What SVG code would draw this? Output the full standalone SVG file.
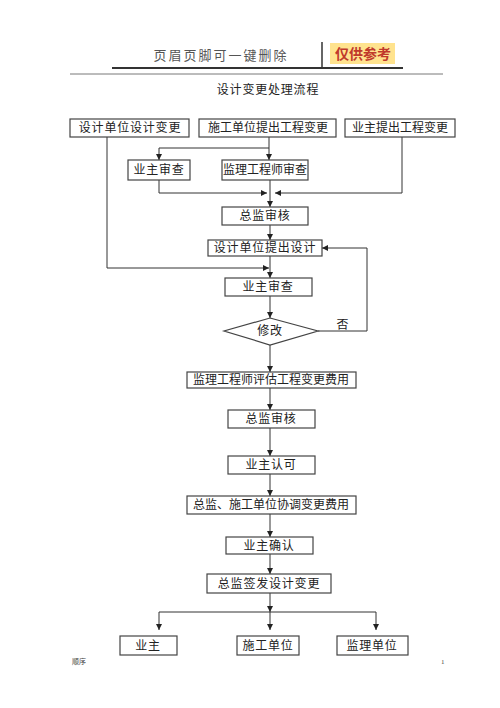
<svg xmlns="http://www.w3.org/2000/svg" width="500" height="708" viewBox="0 0 500 708">
<style>
.box{fill:#fff;stroke:#444;stroke-width:1.2}
.t{font-family:"Liberation Serif","Noto Sans CJK SC",serif;font-size:12px;fill:#222;text-anchor:middle;letter-spacing:0.8px}
.n{letter-spacing:0}
.c{fill:none;stroke:#333;stroke-width:1}
</style>
<defs>
<marker id="ah" markerWidth="6" markerHeight="6" refX="6" refY="3" orient="auto" markerUnits="userSpaceOnUse">
<path d="M0,0 L6,3 L0,6 z" fill="#222"/>
</marker>
</defs>
<rect width="500" height="708" fill="#fff"/>
<g id="header">
<text x="221" y="60" font-family="Liberation Serif,'Noto Sans CJK SC',serif" font-size="13" fill="#555" text-anchor="middle" letter-spacing="2">页眉页脚可一键删除</text>
<line x1="322" y1="42" x2="322" y2="68" stroke="#333" stroke-width="1.5"/>
<line x1="112" y1="68" x2="403" y2="68" stroke="#333" stroke-width="2"/>
<line x1="70" y1="74" x2="443" y2="74" stroke="#555" stroke-width="0.8"/>
<rect x="330" y="43" width="65" height="21" fill="#FFE38E"/>
<text x="363" y="59" font-family="'Noto Sans CJK SC',sans-serif" font-size="14" font-weight="bold" fill="#C0392B" text-anchor="middle">仅供参考</text>
</g>
<g id="title"><text class="t" x="268" y="94" letter-spacing="0.5">设计变更处理流程</text></g>
<g id="connectors">
<path class="c" d="M269,137 V160" marker-end="url(#ah)"/>
<path class="c" d="M269,148 H159 V160" marker-end="url(#ah)"/>
<path class="c" d="M107,137 V268 H269" marker-end="url(#ah)"/>
<path class="c" d="M159,180 V193 H267" marker-end="url(#ah)"/>
<path class="c" d="M402,137 V193 H275" marker-end="url(#ah)"/>
<path class="c" d="M270,180 V207" marker-end="url(#ah)"/>
<path class="c" d="M270,225 V240" marker-end="url(#ah)"/>
<path class="c" d="M270,256 V278" marker-end="url(#ah)"/>
<path class="c" d="M270,296 V318" marker-end="url(#ah)"/>
<path class="c" d="M318,331 H367 V248 H322" marker-end="url(#ah)"/>
<path class="c" d="M270,345 V372" marker-end="url(#ah)"/>
<path class="c" d="M270,388 V410" marker-end="url(#ah)"/>
<path class="c" d="M270,428 V456" marker-end="url(#ah)"/>
<path class="c" d="M270,474 V496" marker-end="url(#ah)"/>
<path class="c" d="M270,514 V537" marker-end="url(#ah)"/>
<path class="c" d="M270,554 V574" marker-end="url(#ah)"/>
<path class="c" d="M270,593 V612" marker-end="url(#ah)"/>
<path class="c" d="M159,612 H376"/>
<path class="c" d="M159,612 V630" marker-end="url(#ah)"/>
<path class="c" d="M270,612 V630" marker-end="url(#ah)"/>
<path class="c" d="M376,612 V630" marker-end="url(#ah)"/>
<text class="t" x="343" y="329" letter-spacing="0">否</text>
</g>
<g id="n1"><rect class="box" x="70" y="119" width="119" height="18"/><text class="t" x="130" y="132">设计单位设计变更</text></g>
<g id="n2"><rect class="box" x="199" y="119" width="137" height="18"/><text class="t n" x="268" y="132">施工单位提出工程变更</text></g>
<g id="n3"><rect class="box" x="345" y="119" width="110" height="18"/><text class="t n" x="400" y="132">业主提出工程变更</text></g>
<g id="n4"><rect class="box" x="128" y="160" width="62" height="20"/><text class="t" x="159" y="174">业主审查</text></g>
<g id="n5"><rect class="box" x="222" y="160" width="86" height="20"/><text class="t n" x="265" y="174">监理工程师审查</text></g>
<g id="n6"><rect class="box" x="222" y="207" width="86" height="18"/><text class="t" x="265" y="220">总监审核</text></g>
<g id="n7"><rect class="box" x="208" y="240" width="114" height="16"/><text class="t" x="265" y="252">设计单位提出设计</text></g>
<g id="n8"><rect class="box" x="225" y="278" width="87" height="18"/><text class="t" x="268" y="291">业主审查</text></g>
<g id="n9"><polygon class="box" points="270,318 318,331 270,345 224,331"/><text class="t" x="270" y="335">修改</text></g>
<g id="n10"><rect class="box" x="187" y="372" width="169" height="16"/><text class="t n" x="271" y="384">监理工程师评估工程变更费用</text></g>
<g id="n11"><rect class="box" x="228" y="410" width="87" height="18"/><text class="t" x="271" y="423">总监审核</text></g>
<g id="n12"><rect class="box" x="228" y="456" width="87" height="18"/><text class="t" x="271" y="469">业主认可</text></g>
<g id="n13"><rect class="box" x="187" y="496" width="169" height="18"/><text class="t n" x="271" y="509">总监、施工单位协调变更费用</text></g>
<g id="n14"><rect class="box" x="226" y="537" width="87" height="17"/><text class="t" x="269" y="550">业主确认</text></g>
<g id="n15"><rect class="box" x="207" y="574" width="124" height="19"/><text class="t" x="269" y="588">总监签发设计变更</text></g>
<g id="n16"><rect class="box" x="120" y="636" width="57" height="19"/><text class="t" x="148" y="650">业主</text></g>
<g id="n17"><rect class="box" x="237" y="636" width="62" height="19"/><text class="t" x="268" y="650">施工单位</text></g>
<g id="n18"><rect class="box" x="337" y="636" width="71" height="19"/><text class="t" x="372" y="650">监理单位</text></g>
<g id="footer">
<text x="72" y="664" font-family="'Noto Sans CJK SC',sans-serif" font-size="7" fill="#444">顺序</text>
<text x="441" y="664" font-family="Liberation Serif,serif" font-size="7" fill="#444">1</text>
</g>
</svg>
